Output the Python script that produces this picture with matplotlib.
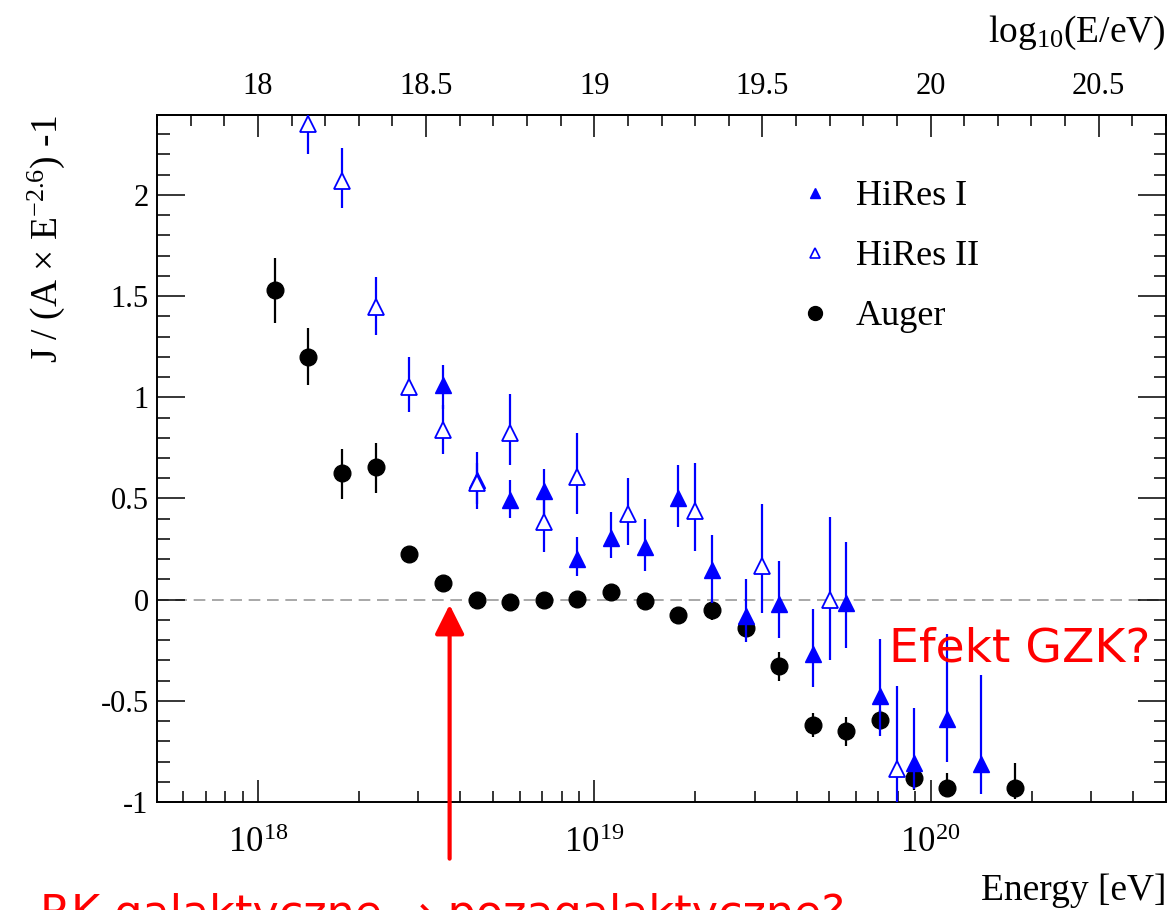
import numpy as np
import matplotlib
matplotlib.use('Agg')
import matplotlib.pyplot as plt
from matplotlib.lines import Line2D
from matplotlib.ticker import FixedLocator, MultipleLocator, FuncFormatter, LogLocator, NullFormatter

plt.rcParams['font.family'] = 'Liberation Serif'
plt.rcParams['mathtext.fontset'] = 'custom'
plt.rcParams['mathtext.rm'] = 'Liberation Serif'
plt.rcParams['mathtext.it'] = 'Liberation Serif:italic'
plt.rcParams['mathtext.bf'] = 'Liberation Serif:bold'
plt.rcParams['axes.unicode_minus'] = False

# Auger
auger_loge = [18.05, 18.15, 18.25, 18.35, 18.45, 18.55, 18.65, 18.75, 18.85, 18.95, 19.05,
              19.15, 19.25, 19.35, 19.45, 19.55, 19.65, 19.75, 19.85, 19.95, 20.05, 20.25]
auger_val = [1.53, 1.20, 0.625, 0.655, 0.225, 0.08, 0.0, -0.01, 0.0, 0.005, 0.04,
             -0.005, -0.075, -0.05, -0.14, -0.33, -0.62, -0.65, -0.595, -0.88, -0.93, -0.93]
auger_lo = [0.165, 0.14, 0.13, 0.13, 0.015, 0.01, 0.01, 0.01, 0.01, 0.01, 0.015,
            0.015, 0.03, 0.05, 0.04, 0.07, 0.06, 0.075, 0.05, 0.06, 0.04, 0.055]
auger_hi = [0.16, 0.14, 0.12, 0.12, 0.015, 0.01, 0.01, 0.01, 0.01, 0.01, 0.015,
            0.015, 0.03, 0.03, 0.04, 0.07, 0.06, 0.07, 0.05, 0.06, 0.075, 0.125]

# HiRes I
hires1_loge = [18.55, 18.65, 18.75, 18.85, 18.95, 19.05, 19.15, 19.25, 19.35,
               19.45, 19.55, 19.65, 19.75, 19.85, 19.95, 20.05, 20.15]
hires1_val = [1.06, 0.59, 0.49, 0.535, 0.20, 0.305, 0.26, 0.50, 0.145,
              -0.08, -0.02, -0.27, -0.015, -0.475, -0.805, -0.59, -0.81]
hires1_lo = [0.12, 0.14, 0.085, 0.11, 0.085, 0.10, 0.12, 0.14, 0.16,
             0.13, 0.17, 0.16, 0.225, 0.2, 0.13, 0.21, 0.15]
hires1_hi = [0.10, 0.14, 0.10, 0.11, 0.11, 0.13, 0.14, 0.165, 0.175,
             0.18, 0.21, 0.225, 0.30, 0.28, 0.27, 0.42, 0.44]

# HiRes II
hires2_loge = [18.15, 18.25, 18.35, 18.45, 18.55, 18.65, 18.75, 18.85, 18.95,
               19.1, 19.3, 19.5, 19.7, 19.9]
hires2_val = [2.35, 2.07, 1.445, 1.05, 0.84, 0.575, 0.825, 0.385, 0.605,
              0.425, 0.44, 0.165, 0.0, -0.835]
hires2_lo = [0.15, 0.135, 0.135, 0.125, 0.12, 0.1, 0.16, 0.15, 0.18,
             0.155, 0.2, 0.23, 0.3, 0.2]
hires2_hi = [0.15, 0.16, 0.15, 0.15, 0.12, 0.1, 0.19, 0.15, 0.22,
             0.175, 0.235, 0.31, 0.41, 0.41]

fig = plt.figure(figsize=(11.67, 9.10), dpi=100)
ax = fig.add_axes([157 / 1167, 1 - 802 / 910, (1166 - 157) / 1167, (802 - 115) / 910])

ax.axhline(0, color='#999999', lw=1.2, dashes=(7, 4), zorder=1)

ax.errorbar(10 ** np.array(auger_loge), auger_val, yerr=[auger_lo, auger_hi],
            fmt='o', color='black', ms=12, elinewidth=1.6, capsize=0, zorder=3)
ax.errorbar(10 ** np.array(hires1_loge), hires1_val, yerr=[hires1_lo, hires1_hi],
            fmt='^', color='blue', ms=11, elinewidth=1.6, capsize=0, zorder=4)
ax.errorbar(10 ** np.array(hires2_loge), hires2_val, yerr=[hires2_lo, hires2_hi],
            fmt='^', color='blue', mfc='white', mec='blue', mew=1.3, ms=11,
            elinewidth=1.6, capsize=0, zorder=5)

ax.set_xscale('log')
ax.set_xlim(10 ** 17.7, 10 ** 20.7)
ax.set_ylim(-1, 2.395)
ax.xaxis.set_major_locator(FixedLocator([1e18, 1e19, 1e20]))
ax.xaxis.set_major_formatter(FuncFormatter(
    lambda v, p: r'$\mathregular{10^{%d}}$' % round(np.log10(v))))
ax.xaxis.set_minor_locator(LogLocator(base=10, subs=range(2, 10)))
ax.xaxis.set_minor_formatter(NullFormatter())
ax.yaxis.set_major_locator(MultipleLocator(0.5))
ax.yaxis.set_minor_locator(MultipleLocator(0.1))
ax.yaxis.set_major_formatter(FuncFormatter(lambda v, p: '%g' % v))

for s in ax.spines.values():
    s.set_linewidth(1.4)
ax.tick_params(axis='x', which='both', direction='in', top=False, bottom=True,
               width=1.1, labelsize=25, pad=18)
ax.tick_params(axis='x', which='major', length=16)
ax.tick_params(axis='x', which='minor', length=8)
ax.tick_params(axis='y', which='both', direction='in', left=True, right=True,
               width=1.1, labelsize=22, pad=6)
ax.tick_params(axis='y', which='major', length=20)
ax.tick_params(axis='y', which='minor', length=9)

secax = ax.secondary_xaxis('top', functions=(np.log10, lambda v: 10 ** v))
secax.xaxis.set_major_locator(MultipleLocator(0.5))
secax.xaxis.set_minor_locator(MultipleLocator(0.1))
secax.xaxis.set_major_formatter(FuncFormatter(lambda v, p: '%g' % v))
secax.xaxis.set_minor_formatter(NullFormatter())
secax.tick_params(which='both', direction='in', width=1.1, labelsize=22, pad=10)
secax.tick_params(which='major', length=16)
secax.tick_params(which='minor', length=8)
secax.spines['top'].set_linewidth(1.4)
secax.set_xlabel(r'log$_{\mathregular{10}}$(E/eV)', loc='right', fontsize=27, labelpad=22)

ax.set_xlabel('Energy [eV]', loc='right', fontsize=27, labelpad=10)
ax.set_ylabel(r'J / (A $\times$ E$^{\mathregular{-2.6}}$) -1', loc='top', fontsize=27, labelpad=24)

handles = [
    Line2D([], [], ls='none', marker='^', color='blue', ms=7),
    Line2D([], [], ls='none', marker='^', mfc='white', mec='blue', mew=1.2, ms=7),
    Line2D([], [], ls='none', marker='o', color='black', ms=10),
]
ax.legend(handles, ['HiRes I', 'HiRes II', 'Auger'], loc='upper left',
          bbox_to_anchor=(797 / 1167, 1 - 180 / 910), bbox_transform=fig.transFigure,
          frameon=False, fontsize=26, borderpad=0, handlelength=1.0,
          handletextpad=0.62, labelspacing=0.74, borderaxespad=0)

ax.annotate('', xy=(10 ** 18.57, -0.025), xytext=(10 ** 18.57, -1.28),
            arrowprops=dict(arrowstyle='-|>,head_length=1.0,head_width=0.5',
                            color='red', lw=3, mutation_scale=18,
                            shrinkA=0, shrinkB=0),
            annotation_clip=False)

fig.text(889 / 1167, 1 - 662 / 910, 'Efekt GZK?', color='red', fontsize=34,
         family='DejaVu Sans', ha='left', va='baseline')
fig.text(40 / 1167, 1 - 893 / 910, 'RK galaktyczne \u2192 pozagalaktyczne?', color='red',
         fontsize=32, family='DejaVu Sans', ha='left', va='top')

fig.savefig('out.png', dpi=100)
